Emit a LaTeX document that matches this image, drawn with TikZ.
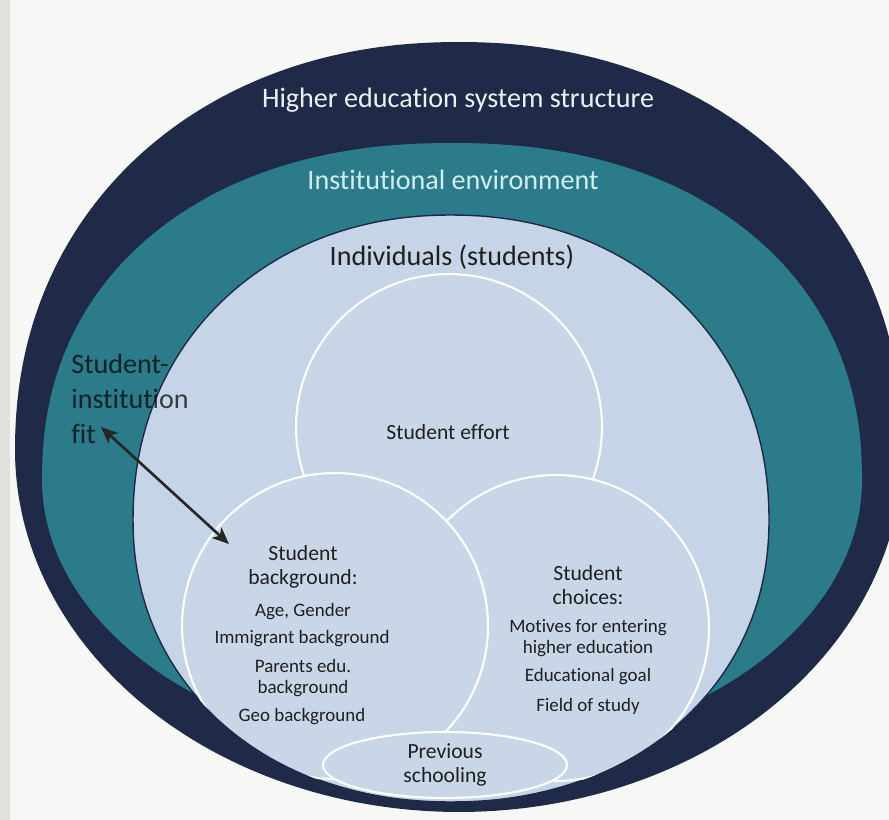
\documentclass[tikz,border=0pt]{standalone}
\usepackage{fontspec}
\setmainfont{Carlito}[Ligatures={NoCommon,NoContextual},Contextuals=NoAlternate,RawFeature={-liga;-clig;-calt}]
\usetikzlibrary{arrows.meta,shapes.geometric}

\definecolor{navy}{HTML}{1E2A47}
\definecolor{tealring}{HTML}{2B7B8B}
\definecolor{paleblue}{HTML}{C5D4E7}
\definecolor{vennfill}{HTML}{C8D6E8}
\definecolor{pagebg}{HTML}{F7F7F5}
\definecolor{pageedge}{HTML}{E0E0DD}
\definecolor{ink}{HTML}{1F1F1F}
\definecolor{ringwhite}{HTML}{EEF1F5}
\definecolor{ringcyan}{HTML}{D2EEF0}

% keeps "t" and "i" as two separate glyphs
\newcommand\tsep{t\kern0pt i}

% closed rounded outline: centre (#1,#2), half width #3,
% upper and lower half heights #4 and #5,
% superellipse exponents of the upper (#6) and lower (#7) halves
\newcommand\eggoutline[7]{plot[domain=1:359,samples=120,smooth cycle,variable=\t]
  ({#1+#3*cos(\t)*abs(cos(\t))^(2/((sin(\t)>0)?#6:#7)-1)},
   {#2-((sin(\t)>0)?#4:#5)*sin(\t)*abs(sin(\t))^(2/((sin(\t)>0)?#6:#7)-1)})}

\begin{document}
\begin{tikzpicture}[x=0.02cm,y=-0.02cm,
  ringlabel/.style={font=\fontsize{16}{19.8}\selectfont, inner sep=0pt},
  headtext/.style={font=\fontsize{12.3}{14}\selectfont, text=ink, align=center, inner sep=0pt},
  itemtext/.style={font=\fontsize{10.8}{11.6}\selectfont, text=ink, align=center, inner sep=0pt},
  venn/.style={circle, draw=white, line width=1.2pt, fill=vennfill, minimum size=6.12cm, inner sep=0pt},
  fitarrow/.style={{Stealth[length=9.5pt,width=8pt,inset=2.5pt]}-{Stealth[length=9.5pt,width=8pt,inset=2.5pt]},
    line width=1.5pt, draw=black!85}
]
\useasboundingbox (0,0) rectangle (889,820);
\fill[pagebg] (0,0) rectangle (889,820);
\fill[pageedge] (0,0) rectangle (10,820);

% nested levels: system, institution, individuals
\fill[navy] \eggoutline{459}{450}{444}{408}{362}{2.12}{2.0};
\fill[tealring] \eggoutline{452}{480}{410}{337}{275}{2.2}{2.0};
\path[fill=paleblue, draw=navy, line width=0.8pt] \eggoutline{451}{520}{318}{305}{282}{2.1}{2.1};

% overlapping student circles, kept inside the individuals level
\begin{scope}
  \clip \eggoutline{451}{520}{318}{305}{282}{2.1}{2.1};
  \node[venn] (effort) at (449,427) {};
  \node[venn] (choices) at (556,628) {};
  \node[venn] (background) at (335,626) {};
  \node[venn, ellipse, minimum width=4.88cm, minimum height=1.32cm, headtext] (school) at (445,765)
    {Previous\\schooling};
\end{scope}

% level labels
\node[ringlabel, text=ringwhite] (syslbl) at (458,100) {Higher educa\tsep on system structure};
\node[ringlabel, text=ringcyan] (instlbl) at (453,180) {Institu\tsep onal environment};
\node[ringlabel, text=ink] (indlbl) at (452,257) {Individuals (students)};

% circle contents
\node[headtext] (effortlbl) at (448,432) {Student effort};

\node[headtext] (bghead) at (303,567) {Student\\background:};
\node[itemtext] (bgage) at (303,612) {Age, Gender};
\node[itemtext] (bgimm) at (302,639) {Immigrant background};
\node[itemtext] (bgpar) at (303,678) {Parents edu.\\background};
\node[itemtext] (bggeo) at (302,717) {Geo background};

\node[headtext] (chhead) at (588,585) {Student\\choices:};
\node[itemtext] (chmot) at (588,638) {Motives for entering\\higher educa\tsep on};
\node[itemtext] (chgoal) at (588,677) {Educa\tsep onal goal};
\node[itemtext] (chfield) at (588,706) {Field of study};

% student-institution fit
\node[ringlabel, text=black, text opacity=0.72, align=left, anchor=west] (fitlbl) at (71,399)
  {Student-\\institu\tsep on\\fit};
\coordinate (fitend) at (101,427);
\coordinate (bgend) at (229,544);
\draw[fitarrow] (fitend) -- (bgend);
\end{tikzpicture}
\end{document}
